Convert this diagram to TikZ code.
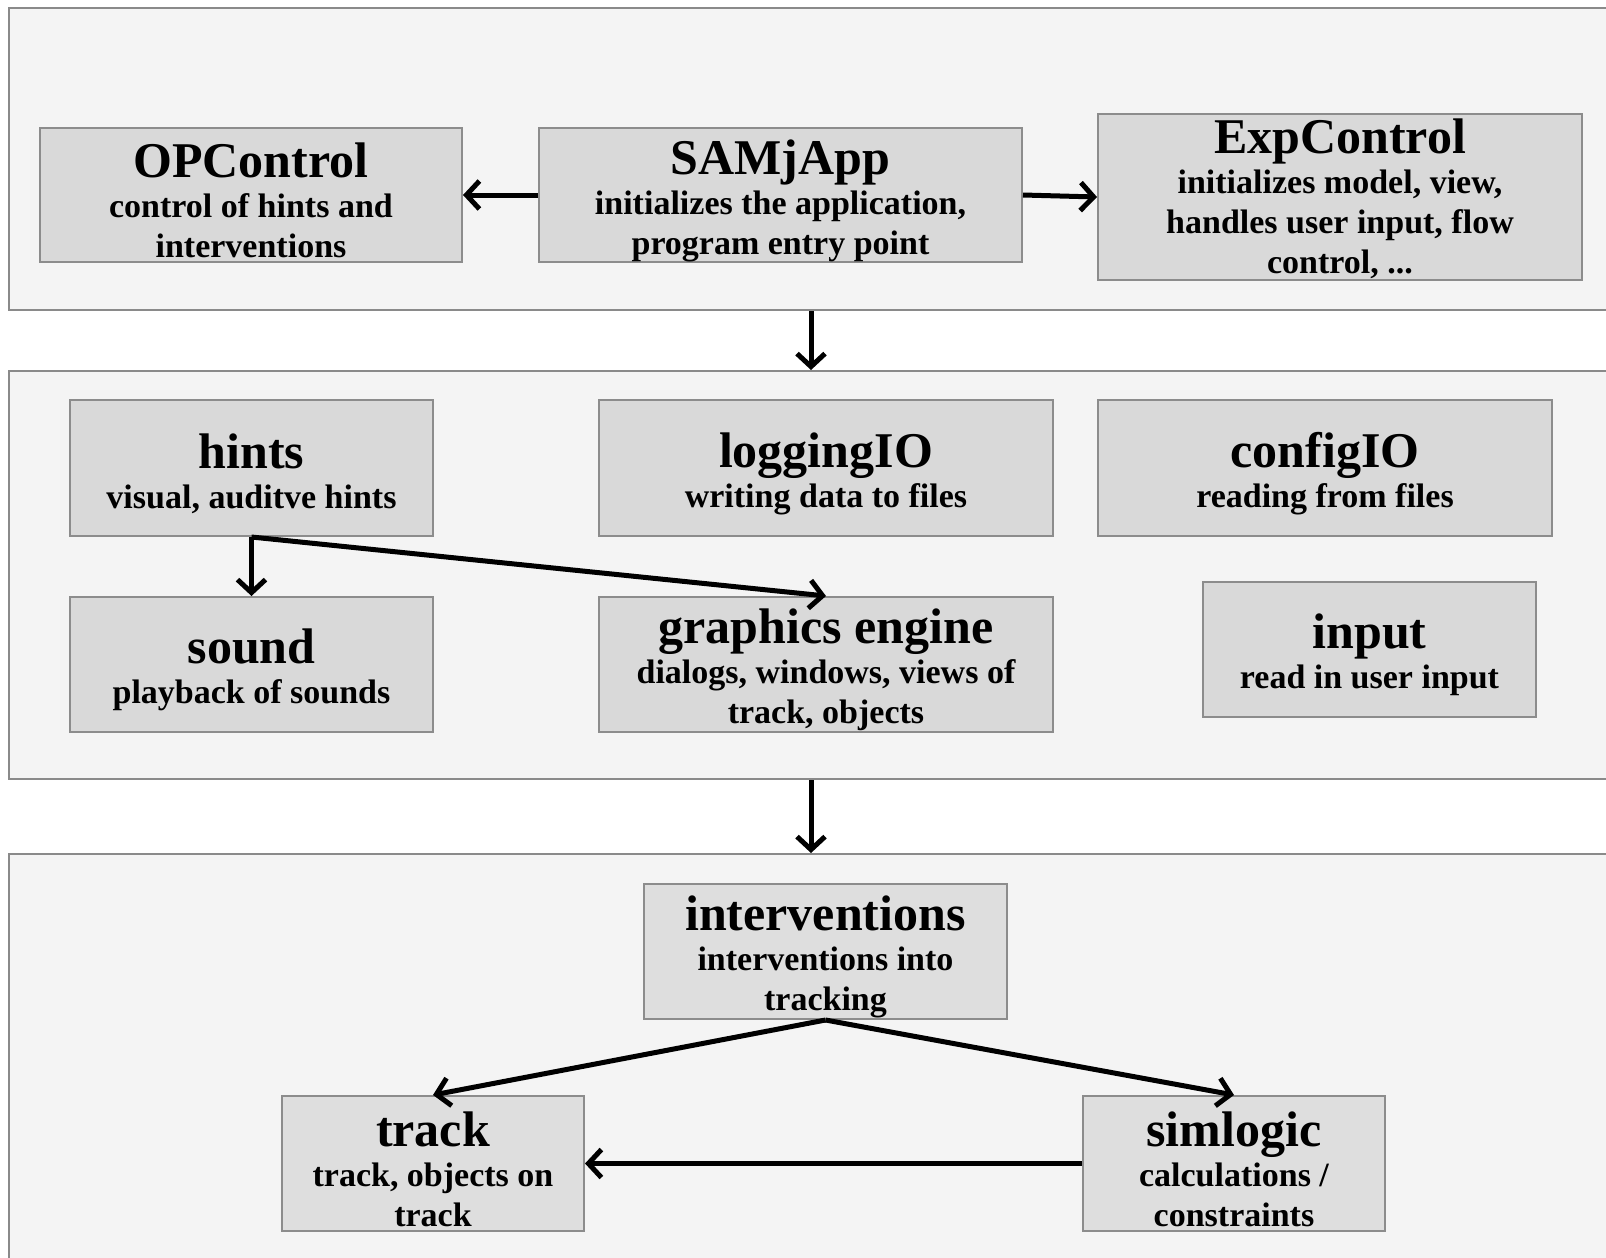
\documentclass[tikz,border=0pt]{standalone}
\usepackage{fontspec}
\setmainfont{Liberation Serif}
\usetikzlibrary{arrows.meta,calc}

\definecolor{panelfill}{HTML}{F4F4F4}
\definecolor{paneledge}{HTML}{8A8A8A}
\definecolor{boxfill}{HTML}{D9D9D9}
\definecolor{boxfilllight}{HTML}{DEDEDE}
\definecolor{boxedge}{HTML}{8C8C8C}

% module name set large, with a strut that lowers the block a little
\newcommand{\modtitle}[2][46pt]{{\fontsize{50}{52}\selectfont\rule{0pt}{#1}#2}}

\tikzset{
  panel/.style={draw=paneledge, line width=2pt, fill=panelfill},
  modbox/.style={draw=boxedge, line width=2pt, fill=boxfill, rectangle,
    inner sep=0pt, align=center, font=\bfseries\fontsize{34}{40}\selectfont},
  lightbox/.style={modbox, fill=boxfilllight},
  flow/.style={line width=5pt, -{Straight Barb[length=13pt,width=28pt]}}
}

\begin{document}
\begin{tikzpicture}[x=1pt, y=-1pt]
\useasboundingbox (0,0) rectangle (1606,1258);
\clip (0,0) rectangle (1606,1258);
\fill[white] (0,0) rectangle (1606,1258);

% layer panels
\node[panel, minimum width=1612pt, minimum height=302pt, anchor=north west, inner sep=0pt] (p1) at (8,7) {};
\node[panel, minimum width=1612pt, minimum height=408pt, anchor=north west, inner sep=0pt] (p2) at (8,370) {};
\node[panel, minimum width=1612pt, minimum height=420pt, anchor=north west, inner sep=0pt] (p3) at (8,853) {};
\coordinate (ax) at (811,0);

% application layer
\node[modbox, minimum width=422pt, minimum height=134pt] (opc) at (251,195)
  {\modtitle{OPControl}\\[0pt]control of hints and\\interventions};
\node[modbox, minimum width=483pt, minimum height=134pt] (samj) at (780.5,195)
  {\modtitle{SAMjApp}\\[0pt]initializes the application,\\program entry point};
\node[modbox, minimum width=484pt, minimum height=166pt] (expc) at (1340,197)
  {\modtitle[39pt]{ExpControl}\\[0pt]initializes model, view,\\handles user input, flow\\control, ...};

% view / io layer
\node[modbox, minimum width=363pt, minimum height=136pt] (hints) at (251.5,468)
  {\modtitle{hints}\\[0pt]visual, auditve hints};
\node[modbox, minimum width=454pt, minimum height=136pt] (logio) at (826,468)
  {\modtitle{loggingIO}\\[0pt]writing data to files};
\node[modbox, minimum width=454pt, minimum height=136pt] (cfgio) at (1325,468)
  {\modtitle{configIO}\\[0pt]reading from files};
\node[modbox, minimum width=363pt, minimum height=135pt] (sound) at (251.5,664.5)
  {\modtitle{sound}\\[0pt]playback of sounds};
\node[modbox, minimum width=454pt, minimum height=135pt] (gfx) at (826,664.5)
  {\modtitle{graphics engine}\\[0pt]dialogs, windows, views of\\track, objects};
\node[modbox, minimum width=333pt, minimum height=135pt] (input) at (1369.5,649.5)
  {\modtitle{input}\\[0pt]read in user input};

% model layer
\node[lightbox, minimum width=363pt, minimum height=135pt] (interv) at (825.5,951.5)
  {\modtitle{interventions}\\[0pt]interventions into\\tracking};
\node[lightbox, minimum width=302pt, minimum height=135pt] (track) at (433,1163.5)
  {\modtitle{track}\\[0pt]track, objects on\\track};
\node[lightbox, minimum width=302pt, minimum height=135pt] (siml) at (1234,1163.5)
  {\modtitle{simlogic}\\[0pt]calculations /\\constraints};

% connectors
\draw[flow] (samj.west) -- (opc.east);
\draw[flow] (samj.east) -- (expc.west);
\draw[flow] (p1.south -| ax) -- (p2.north -| ax);
\draw[flow] (p2.south -| ax) -- (p3.north -| ax);
\draw[flow] (hints.south) -- (sound.north);
\draw[flow] (hints.south) -- (gfx.north);
\draw[flow] (interv.south) -- (track.north);
\draw[flow] (interv.south) -- (siml.north);
\draw[flow] (siml.west) -- (track.east);
\end{tikzpicture}
\end{document}
